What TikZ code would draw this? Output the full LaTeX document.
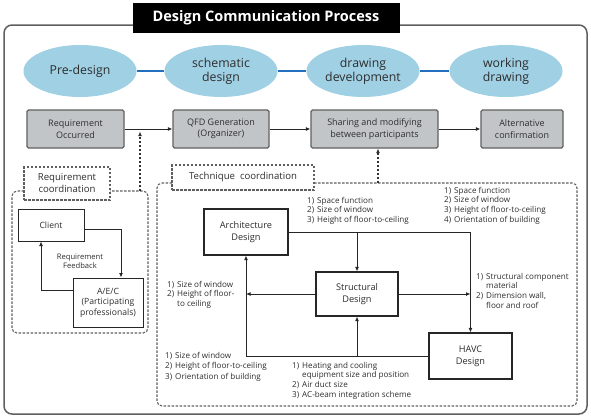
\documentclass[tikz,border=0pt]{standalone}
\usepackage{fontspec}
\setmainfont{Open Sans}
\usetikzlibrary{positioning,calc,shapes.geometric,arrows.meta}

\definecolor{phaseblue}{RGB}{160,208,228}
\definecolor{linkblue}{RGB}{35,110,190}
\definecolor{boxgray}{RGB}{194,197,199}
\definecolor{framegray}{RGB}{95,95,95}
\definecolor{textgray}{RGB}{45,45,45}

\begin{document}
\begin{tikzpicture}[x=1pt,y=-1pt,
	phase/.style={ellipse, fill=phaseblue, minimum width=113pt, minimum height=52pt, inner sep=0pt, align=center, font=\fontsize{12.3}{14}\selectfont, text=textgray},
	stagebox/.style={rectangle, rounded corners=1.5pt, fill=boxgray, draw=gray!75!black, line width=1.1pt, minimum height=38pt, inner sep=1pt, align=center, font=\fontsize{9}{11.5}\selectfont, text=textgray},
	partybox/.style={rectangle, draw=black!85, line width=1pt, fill=white, inner sep=1pt, align=center, font=\fontsize{8.6}{10.5}\selectfont, text=textgray},
	designbox/.style={rectangle, draw=black!85, line width=1.2pt, fill=white, inner sep=1pt, align=center, font=\fontsize{9.2}{12}\selectfont, text=textgray},
	coordlabel/.style={rectangle, draw=framegray, line width=1.1pt, dash pattern=on 2.5pt off 1.5pt, fill=white, inner sep=1pt, align=center, font=\fontsize{9.6}{12}\selectfont, text=textgray},
	region/.style={draw=framegray, line width=1.1pt, dash pattern=on 2.5pt off 1.5pt, rounded corners=5pt},
	flow/.style={-{Latex[length=4.5pt,width=4pt]}, line width=0.9pt, black!85},
	dotflow/.style={region, -{Latex[length=4.5pt,width=4pt]}, black!80},
	note/.style={anchor=north west, inner sep=0pt, font=\fontsize{8.1}{9.8}\selectfont, text=textgray}
	]
	\useasboundingbox (0,0) rectangle (591,418);
	
	% ===== FRAME + TITLE =====
	\draw[framegray, line width=1.5pt, rounded corners=8pt] (4,25) rectangle (587,414);
	\node[fill=black, text=white, minimum width=267pt, minimum height=30pt, inner sep=0pt,
	      font=\fontsize{14.5}{16}\selectfont\bfseries] (title) at (266,18) {Design Communication Process};
	
	% ===== PHASES =====
	\node[phase] (pre) at ( 80,71) {Pre-design};
	\node[phase] (sch) at (221,71) {schematic\\design};
	\node[phase] (dev) at (363,71) {drawing\\development};
	\node[phase] (wrk) at (506,71) {working\\drawing};
	
	\draw[linkblue, line width=1.2pt] (pre) -- (sch);
	\draw[linkblue, line width=1.2pt] (sch) -- (dev);
	\draw[linkblue, line width=1.2pt] (dev) -- (wrk);
	
	% ===== PROCESS STEPS =====
	\node[stagebox, minimum width=97pt]  (req)   at ( 75.5,129) {Requirement\\Occurred};
	\node[stagebox, minimum width=96pt]  (qfd)   at (221,129)   {QFD Generation\\(Organizer)};
	\node[stagebox, minimum width=127pt] (share) at (374.5,129) {Sharing and modifying\\between participants};
	\node[stagebox, minimum width=82pt]  (alt)   at (522,129)   {Alternative\\confirmation};
	
	\draw[flow] (req) -- (qfd);
	\draw[flow] (qfd) -- (share);
	\draw[flow] (share) -- (alt);
	
	% ===== REQUIREMENT COORDINATION =====
	\node[coordlabel, minimum width=86pt, minimum height=33pt] (reqlbl) at (67,183.5) {Requirement\\coordination};
	\draw[region] (24,191) -- (12,191) -- (12,333) -- (148,333) -- (148,191) -- (110,191);
	\coordinate (reqtap) at (140,191);
	\draw[dotflow, shorten >=2.5pt] (reqtap) -- (reqtap |- req.east);
	
	\node[partybox, minimum width=66pt, minimum height=32pt] (client) at (51,225) {Client};
	\node[partybox, minimum width=70pt, minimum height=49pt] (aec) at (108,302.5) {A/E/C\\(Participating\\professionals)};
	
	\draw[flow] ([yshift=-4pt]client.east) -| ([xshift=13pt]aec.north);
	\draw[flow] ([yshift=12.5pt]aec.west) -| ([xshift=-10pt]client.south);
	\node[align=center, inner sep=0pt, font=\fontsize{7.6}{9}\selectfont, text=textgray] (fb) at (80,261) {Requirement\\Feedback};
	
	% ===== TECHNIQUE COORDINATION =====
	\node[coordlabel, minimum width=142pt, minimum height=25pt] (techlbl) at (243,177.5) {Technique~~coordination};
	\draw[region] (172,183) -- (157,183) -- (157,406) -- (577,406) -- (577,183) -- (314,183);
	\coordinate (techtap) at (378,183);
	\draw[dotflow] (techtap) -- (techtap |- share.south);
	
	\node[designbox, minimum width=84pt, minimum height=46pt] (arch)   at (246,232)   {Architecture\\Design};
	\node[designbox, minimum width=82pt, minimum height=44pt] (struct) at (357,294)   {Structural\\Design};
	\node[designbox, minimum width=83pt, minimum height=46pt] (havc)   at (470.5,356) {HAVC\\Design};
	
	\draw[flow] (arch.east) -| (havc.north);
	\draw[flow] (arch.east -| struct.north) -- (struct.north);
	\draw[flow] (struct.east) -- (struct.east -| havc.north);
	\draw[flow] (struct.west) -- (struct.west -| arch.south);
	\draw[flow] (havc.west) -| (arch.south);
	\draw[flow] (havc.west -| struct.south) -- (struct.south);
	
	% ===== ITEM LISTS =====
	\node[note] (n1) at (307,196) {\begin{tabular}{@{}l@{\hspace{3pt}}l@{}}
		1) & Space function\\ 2) & Size of window\\ 3) & Height of floor-to-ceiling\end{tabular}};
	\node[note] (n2) at (444,186) {\begin{tabular}{@{}l@{\hspace{3pt}}l@{}}
		1) & Space function\\ 2) & Size of window\\ 3) & Height of floor-to-ceiling\\ 4) & Orientation of building\end{tabular}};
	\node[note] (n3) at (476,272) {\begin{tabular}{@{}l@{\hspace{3pt}}l@{}}
		1) & Structural component\\ & material\\ 2) & Dimension wall,\\ & floor and roof\end{tabular}};
	\node[note] (n4) at (167,280) {\begin{tabular}{@{}l@{\hspace{3pt}}l@{}}
		1) & Size of window\\ 2) & Height of floor-\\ & to ceiling\end{tabular}};
	\node[note, font=\fontsize{8.1}{10.4}\selectfont] (n5) at (165,351) {\begin{tabular}{@{}l@{\hspace{3pt}}l@{}}
		1) & Size of window\\ 2) & Height of floor-to-ceiling\\ 3) & Orientation of building\end{tabular}};
	\node[note] (n6) at (292,361) {\begin{tabular}{@{}l@{\hspace{3pt}}l@{}}
		1) & Heating and cooling\\ & equipment size and position\\ 2) & Air duct size\\ 3) & AC-beam integration scheme\end{tabular}};
	
\end{tikzpicture}
\end{document}
